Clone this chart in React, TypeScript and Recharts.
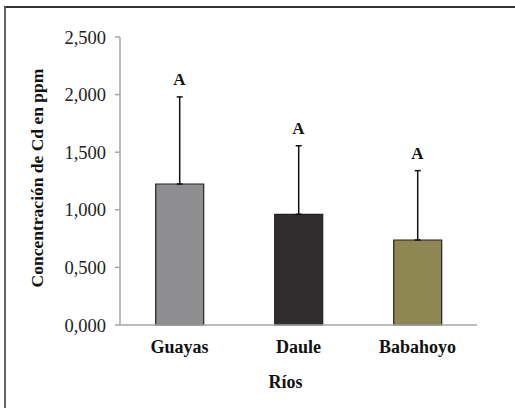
import React from "react";
import { ComposedChart, Bar, Cell, XAxis, YAxis, ErrorBar, Line, LabelList, Label } from "recharts";

const rivers = ["Guayas", "Daule", "Babahoyo"];
const means = [1.224, 0.961, 0.738];
const sdUpper = [0.756, 0.595, 0.602];
const letters = ["A", "A", "A"];
const colors = ["#8e8e90", "#2f2d2e", "#8f8753"];
const yTicks = [0, 0.5, 1, 1.5, 2, 2.5];

const data = rivers.map((r, i) => ({
  river: r,
  mean: means[i],
  err: [0, sdUpper[i]],
  upper: means[i] + sdUpper[i],
  letter: letters[i],
}));

const FONT = "Liberation Serif, DejaVu Serif, serif";

export default function App() {
  return (
    <div style={{ position: "absolute", left: 0, top: 0, width: 515, height: 408, overflow: "hidden", background: "#fff", fontFamily: FONT }}>
      <div style={{ position: "absolute", left: 4, top: 6, width: 700, height: 600, borderTop: "2px solid #333", borderLeft: "2px solid #666" }} />
      <div style={{ position: "absolute", left: 0, top: 0 }}>
        <ComposedChart width={515} height={408} data={data} margin={{ top: 37, right: 38, bottom: 0, left: 0 }} barCategoryGap="30%" style={{ fontFamily: FONT }}>
          <XAxis
            dataKey="river"
            height={83}
            tickLine={false}
            tickSize={0}
            tickMargin={15}
            axisLine={{ stroke: "#a6a6a6", strokeWidth: 1.5 }}
            tick={{ fontFamily: FONT, fontSize: 18, fontWeight: "bold", fill: "#111" }}
          >
            <Label value="Ríos" position="center" dx={-13} dy={15} fontFamily={FONT} fontSize={18} fontWeight="bold" fill="#111" />
          </XAxis>
          <YAxis
            width={120}
            domain={[0, 2.5]}
            ticks={yTicks}
            interval={0}
            tickSize={5}
            tickMargin={9}
            tickFormatter={(v: number) => v.toFixed(3).replace(".", ",")}
            axisLine={{ stroke: "#a6a6a6", strokeWidth: 1.5 }}
            tickLine={{ stroke: "#a6a6a6", strokeWidth: 1.5 }}
            tick={{ fontFamily: FONT, fontSize: 18.5, fill: "#222" }}
          >
            <Label value="Concentración de Cd en ppm" angle={-90} position="center" dx={-23} dy={-3} fontFamily={FONT} fontSize={17.5} fontWeight="bold" fill="#111" />
          </YAxis>
          <Bar dataKey="mean" stroke="#222" strokeWidth={1.2} isAnimationActive={false}>
            {data.map((d, i) => (
              <Cell key={d.river} fill={colors[i]} />
            ))}
            <ErrorBar dataKey="err" width={3} stroke="#111" strokeWidth={1.5} direction="y" />
          </Bar>
          <Line dataKey="upper" stroke="none" dot={false} activeDot={false} isAnimationActive={false}>
            <LabelList dataKey="letter" position="top" offset={12} fontFamily={FONT} fontSize={17} fontWeight="bold" fill="#111" />
          </Line>
        </ComposedChart>
      </div>
    </div>
  );
}
